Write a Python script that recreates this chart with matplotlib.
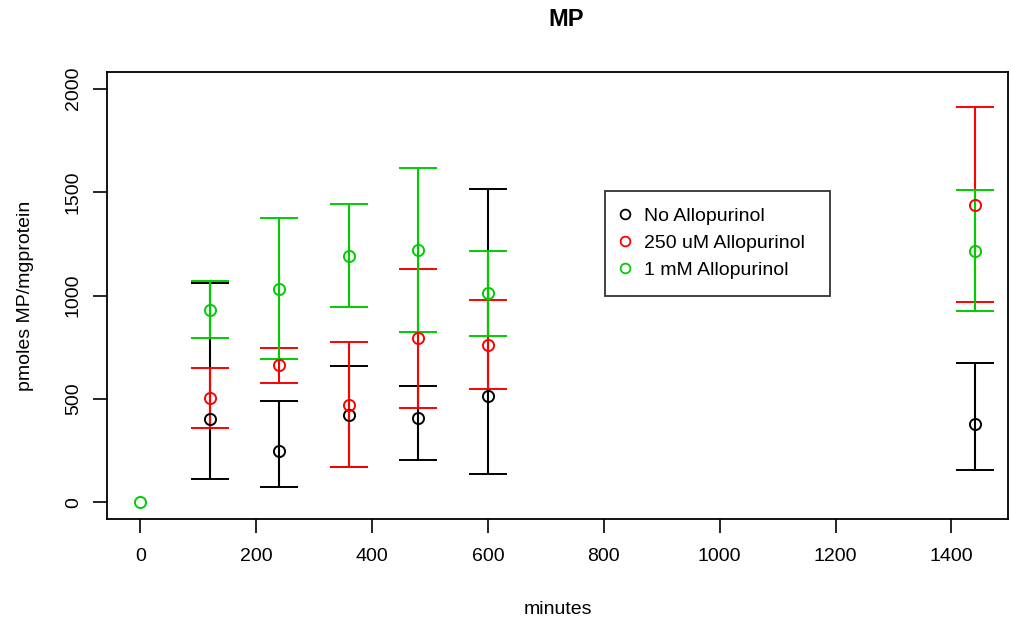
import matplotlib
matplotlib.use("Agg")
import matplotlib.pyplot as plt
from matplotlib.lines import Line2D
import numpy as np

plt.rcParams['font.family'] = ['Liberation Sans', 'DejaVu Sans']

minutes = [120, 240, 360, 480, 600, 1440]

no_allo = [403, 248, 424, 408, 512, 381]
no_allo_lo = [114, 76, 172, 207, 138, 159]
no_allo_hi = [1061, 492, 660, 565, 1515, 676]

allo250 = [507, 664, 472, 794, 763, 1438]
allo250_lo = [361, 578, 172, 456, 548, 967]
allo250_hi = [652, 747, 773, 1129, 980, 1910]

allo1mM_t0 = 0
allo1mM_v0 = 0
allo1mM = [932, 1031, 1192, 1219, 1011, 1214]
allo1mM_lo = [794, 692, 943, 823, 806, 924]
allo1mM_hi = [1069, 1373, 1444, 1616, 1213, 1510]

labels = ["No Allopurinol", "250 uM Allopurinol", "1 mM Allopurinol"]
colors = ["black", "#FF0000", "#00CD00"]

fig = plt.figure(figsize=(10.12, 6.28), dpi=100)
ax = fig.add_axes([107/1012, 1-519/628, 901/1012, 447/628])

series = [(no_allo, no_allo_lo, no_allo_hi),
          (allo250, allo250_lo, allo250_hi),
          (allo1mM, allo1mM_lo, allo1mM_hi)]

x = np.array(minutes)
for (v, lo, hi), c in zip(series, colors):
    v = np.array(v); lo = np.array(lo); hi = np.array(hi)
    ax.errorbar(x, v, yerr=[v - lo, hi - v], fmt='o', mfc='none', mec=c,
                ecolor=c, ms=8, mew=1.4, elinewidth=1.5, capsize=14, capthick=1.5)
ax.plot([allo1mM_t0], [allo1mM_v0], 'o', mfc='none', mec=colors[2], ms=8, mew=1.4)

ax.set_xlim(-57.6, 1497.6)
ax.set_ylim(-80, 2080)
ax.set_xticks([0, 200, 400, 600, 800, 1000, 1200, 1400])
ax.set_yticks([0, 500, 1000, 1500, 2000])
ax.tick_params(axis='both', direction='out', length=10, width=1.2, labelsize=14)
ax.tick_params(axis='x', pad=11)
ax.tick_params(axis='y', pad=8)
for lab in ax.get_yticklabels():
    lab.set_rotation(90)
    lab.set_va('center')
for s in ax.spines.values():
    s.set_linewidth(1.3)

ax.set_xlabel("minutes", fontsize=14, labelpad=26)
ax.set_ylabel("pmoles MP/mgprotein", fontsize=14, labelpad=22)
fig.text(566/1012, 1-20/628, "MP", ha='center', va='center', fontsize=17, fontweight='bold')

handles = [Line2D([], [], ls='none', marker='o', mfc='none', mec=c, ms=7, mew=1.3) for c in colors]
leg = ax.legend(handles, labels, loc='upper left', mode='expand',
                bbox_to_anchor=(498/901, 0, 225/901, 328/447),
                borderaxespad=0,
                fontsize=14, frameon=True, fancybox=False, edgecolor='black',
                borderpad=0.85, handletextpad=0.75, labelspacing=0.48, handlelength=0.4)
leg.get_frame().set_linewidth(1.3)

fig.savefig("out.png", dpi=100)
